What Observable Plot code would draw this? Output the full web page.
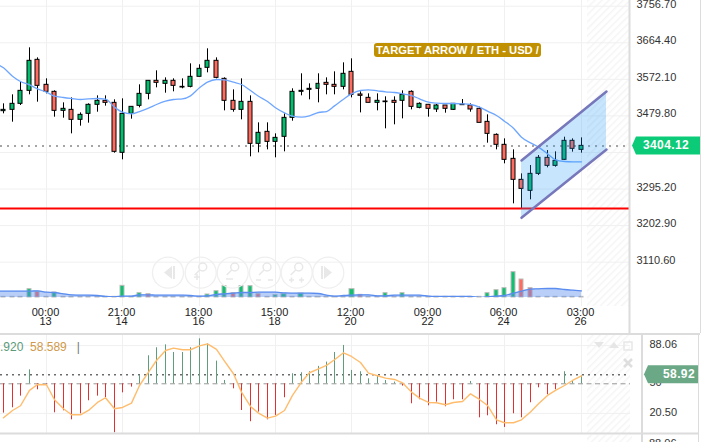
<!DOCTYPE html>
<html>
<head>
<meta charset="utf-8">
<script src="https://cdn.jsdelivr.net/npm/d3@7"></script>
<script src="https://cdn.jsdelivr.net/npm/@observablehq/plot@0.6"></script>
<style>
html,body{margin:0;padding:0;background:#fff}
#wrap{position:relative;width:714px;height:442px;overflow:hidden;font-family:"Liberation Sans",Arial,sans-serif;background:#fff}
#wrap>*{position:absolute;left:0}
#badge{left:374px;top:42.500px;width:167px;height:14.500px;line-height:14.500px;background:#c09000;color:#fff;border-radius:3px;font-weight:bold;font-size:11.200px;text-align:center;white-space:nowrap}
#legend{top:340px;font-size:12px;white-space:pre}
</style>
</head>
<body>
<div id="wrap"></div>
<script>
const high=[3510.3,3533.0,3565.0,3651.7,3626.4,3573.4,3543.1,3512.8,3525.4,3487.5,3510.3,3530.5,3530.5,3520.4,3522.9,3502.7,3558.3,3568.4,3593.6,3575.9,3573.4,3573.4,3611.3,3608.8,3649.2,3626.4,3575.9,3545.6,3573.4,3530.5,3462.3,3462.3,3434.5,3485.0,3548.2,3586.1,3560.8,3586.1,3575.9,3591.1,3613.8,3623.9,3540.6,3535.5,3535.5,3528.0,3528.0,3543.1,3543.1,3512.8,3507.8,3508.6,3506.1,3510.3,3521.2,3510.3,3501.9,3482.5,3434.5,3421.9,3394.1,3333.5,3354.6,3379.8,3392.4,3389.1,3426.1,3421.9,3424.4];
const low=[3485.0,3464.0,3506.1,3533.0,3514.5,3535.5,3476.6,3474.1,3434.5,3453.9,3461.5,3489.2,3504.4,3385.7,3368.9,3471.6,3500.2,3520.4,3550.7,3537.2,3540.6,3548.2,3550.7,3578.5,3588.6,3573.4,3492.6,3489.2,3469.9,3376.5,3386.6,3394.1,3374.0,3389.1,3466.5,3530.5,3520.4,3512.8,3533.0,3533.0,3545.6,3525.4,3487.5,3512.8,3492.6,3447.2,3457.3,3472.4,3495.1,3497.7,3476.6,3488.4,3486.7,3493.5,3506.1,3489.2,3462.3,3411.0,3394.1,3358.8,3257.8,3245.2,3267.9,3329.3,3348.7,3350.4,3367.2,3388.3,3385.7];
const open=[3491.8,3495.1,3510.3,3543.1,3621.4,3558.3,3540.6,3492.6,3495.1,3469.9,3485.0,3507.8,3517.9,3512.8,3386.6,3485.0,3505.2,3535.5,3568.4,3560.8,3568.4,3551.5,3553.2,3578.5,3601.2,3618.9,3573.4,3517.9,3495.1,3515.3,3409.3,3439.6,3414.3,3427.0,3474.9,3540.6,3545.6,3548.2,3563.3,3558.3,3553.2,3591.1,3533.9,3525.4,3512.8,3514.5,3517.9,3517.9,3540.6,3500.2,3507.8,3496.0,3506.1,3495.1,3506.9,3506.1,3497.7,3464.8,3432.0,3406.8,3371.4,3318.4,3290.6,3333.5,3374.0,3353.7,3368.9,3416.9,3394.1];
const close=[3495.1,3510.3,3543.1,3618.9,3555.7,3540.6,3492.6,3497.7,3469.9,3482.5,3507.8,3517.9,3512.8,3389.1,3485.0,3502.7,3535.5,3568.4,3563.3,3568.4,3555.7,3553.2,3578.5,3598.7,3618.9,3575.9,3517.9,3495.1,3515.3,3409.3,3437.1,3414.3,3424.4,3474.9,3540.6,3543.1,3548.2,3560.8,3558.3,3553.2,3586.1,3533.0,3530.5,3512.8,3517.9,3516.2,3512.8,3533.0,3502.7,3510.3,3497.7,3506.1,3497.7,3510.3,3508.6,3496.0,3462.3,3434.5,3406.8,3368.9,3318.4,3295.6,3333.5,3374.0,3353.7,3366.4,3416.9,3396.7,3404.2];
const priceMA=[3601.2,3580.1,3566.7,3558.3,3548.2,3539.7,3529.6,3526.3,3523.8,3521.2,3522.9,3523.8,3522.1,3501.9,3489.2,3485.0,3490.9,3499.3,3508.6,3517.0,3521.2,3522.9,3530.5,3550.7,3565.0,3571.7,3570.9,3565.0,3559.1,3544.0,3529.6,3516.2,3500.2,3487.5,3479.1,3476.6,3480.0,3488.4,3490.9,3505.2,3522.1,3535.5,3544.0,3545.6,3543.1,3540.6,3538.9,3535.5,3531.3,3522.9,3514.5,3512.0,3511.1,3511.1,3510.3,3508.6,3501.9,3491.8,3480.8,3466.5,3448.8,3426.1,3411.8,3400.9,3384.0,3368.9,3364.7,3363.9,3363.9];
const priceMABefore=3612;
const volume=[2,2,2,25,17,2,15,2,2,2,2,2,2,2,35,2,13,10,2,2,2,2,2,2,9,19,34,13,34,34,10,2,7,10,2,12,2,2,2,2,2,25,8,2,2,13,2,13,2,2,2,2,2,2,2,2,2,13,22,28,76,54,28,2,2,2,2,2,2];
const volumeDown=[4,17,27,30,42,61,62];
const volumeMA=[19,19,19,19,20,16,15,11,8,7,7,6,3,2,4,4,8,8,7,7,7,7,6,4,5,9,11,13,15,15,16,16,16,14,13,13,13,12,7,4,6,7,8,8,5,5,7,7,7,7,4,3,3,3,3,3,0,2,4,6,13,19,25,26,27,27,24,22,20];
const volumeMABefore=19;
const oscBars=[20.8,26.1,37.7,63.9,44.0,49.5,21.1,23.1,14.1,20.1,33.1,37.7,36.1,1.2,41.0,46.7,58.3,77.9,85.9,88.8,81.2,81.2,85.9,94.8,89.8,72.6,53.3,45.0,23.4,12.2,21.8,14.1,18.5,36.1,60.0,61.0,62.0,67.3,71.6,81.2,88.2,63.3,62.0,55.0,58.0,53.3,51.7,47.7,30.1,34.1,28.1,31.7,27.1,34.1,34.1,52.3,16.1,18.1,9.2,6.5,20.1,16.1,31.1,46.0,39.0,44.0,62.0,53.3,58.0];
const oscLine=[16.1,23.4,28.1,43.4,49.3,49.0,34.1,25.1,19.1,19.1,23.4,31.4,36.1,25.1,26.4,30.7,48.3,61.6,73.2,83.2,85.5,83.9,83.9,87.8,89.8,84.2,72.6,60.0,41.7,27.4,20.8,15.8,17.8,23.4,38.4,51.7,61.0,64.9,68.3,73.9,80.9,77.2,71.2,60.6,58.0,55.6,54.3,51.0,41.7,35.7,31.4,31.1,29.1,31.4,32.4,40.0,34.4,28.4,14.1,11.2,11.2,14.1,21.8,30.1,38.4,43.4,48.3,53.3,58.0];
const timeTicks=[5,14,23,32,41,50,59,68];
const timeLabels=["00:00\n13","21:00\n14","18:00\n16","15:00\n18","12:00\n20","09:00\n22","06:00\n24","03:00\n26"];
const priceTicks=[3756.70,3664.40,3572.10,3479.80,3295.20,3202.90,3110.60];
const priceGrid=[3756.70,3664.40,3572.10,3479.80,3387.50,3295.20,3202.90,3110.60];
const lastPrice=3404.12, supportLevel=3246;
const channelX=[61,71], channelUpper=[3367.2,3541.4], channelLower=[3222.5,3395.0];
const oscTicks=[88.06,50,20.50], oscGrid=[88.06,20.50], oscBase=50, oscLast=58.92;
const xDomain=[-0.389,73.8], hatchStart=68.75;
const title="TARGET ARROW / ETH - USD /";

const GREEN="#00bf6f",RED="#ff6b5e";
const candles=d3.range(high.length).map(i=>({i,h:high[i],l:low[i],o:open[i],c:close[i],ma:priceMA[i],v:volume[i],vm:volumeMA[i],b:oscBars[i],ol:oscLine[i]}));
const maLine=[{i:-1,ma:priceMABefore},...candles];
const volArea=[{i:-1,vm:volumeMABefore},...candles];
const channel=channelX.map((x,k)=>({x,u:channelUpper[k],d:channelLower[k]}));
const wrap=document.getElementById("wrap");
const style={fontFamily:"'Liberation Sans',Arial,sans-serif",background:"transparent",overflow:"visible"};
const hatchRect=()=>Plot.rect([0],{x1:hatchStart,x2:xDomain[1],y1:0,y2:1e5,fill:"url(#hatch)",clip:"frame"});

function tag(y,text,fill,x0,x1,textX,size){
  return (index,scales)=>{
    const g=d3.create("svg:g"), cy=scales.y(y);
    g.append("path").attr("d",`M${x0} ${cy-9}H${x1}V${cy+9}H${x0}L${x0-4} ${cy}Z`).attr("fill",fill);
    g.append("text").attr("x",textX).attr("y",cy+4).attr("fill","#fff").attr("font-weight","bold")
      .attr("font-size",size).attr("letter-spacing",".4").attr("text-anchor","middle").text(text);
    return g.node();
  };
}

// main price pane
const main=Plot.plot({
  width:714,height:333,marginLeft:0,marginRight:84,marginTop:0,marginBottom:27,style,
  x:{domain:xDomain,label:null,round:true},
  y:{domain:[2998.6,3771.2],label:null},
  marks:[
    hatchRect(),
    Plot.gridY(priceGrid,{stroke:"#f0f0f0",strokeOpacity:1}),
    Plot.gridX(timeTicks,{stroke:"#f0f0f0",strokeOpacity:1}),
    Plot.axisY({anchor:"right",ticks:priceTicks,tickFormat:d=>d.toFixed(2),tickSize:0,tickPadding:6,fontSize:11,fill:"#333",dy:-2,label:null}),
    Plot.axisX({ticks:timeTicks,tickFormat:d=>timeLabels[timeTicks.indexOf(d)],tickSize:0,tickPadding:2,fontSize:11,fill:"#222",lineHeight:0.9,dx:-1,label:null}),
    Plot.ruleY([lastPrice],{stroke:"#888",strokeWidth:1.5,strokeDasharray:"2 5"}),
    Plot.ruleX(candles,{x:"i",y1:"l",y2:"h",stroke:"#000",strokeWidth:1}),
    Plot.rect(candles,{x1:d=>d.i-0.235,x2:d=>d.i+0.235,y1:"o",y2:"c",fill:d=>d.c>=d.o?GREEN:RED,stroke:"#000",strokeWidth:1}),
    Plot.line(maLine,{x:"i",y:"ma",stroke:"#6ea6ff",strokeWidth:1.3,curve:"monotone-x",clip:"frame"}),
    Plot.ruleY([supportLevel],{stroke:"#f00",strokeWidth:2}),
    Plot.areaY(channel,{x:"x",y1:"d",y2:"u",fill:"#2196f3",fillOpacity:0.25}),
    Plot.line(channel,{x:"x",y:"u",stroke:"#7777bb",strokeWidth:2.5}),
    Plot.line(channel,{x:"x",y:"d",stroke:"#7777bb",strokeWidth:2.5}),
    tag(lastPrice,lastPrice.toFixed(2),"#0ccb78",636,700,666,12)
  ]
});
wrap.append(main);

// volume overlay sharing the main pane
const vol=Plot.plot({
  width:714,height:306,marginLeft:0,marginRight:84,marginTop:0,marginBottom:9,style,
  x:{domain:xDomain,label:null,axis:null,round:true},
  y:{domain:[0,891],label:null,axis:null},
  marks:[
    Plot.rectY(candles,{x1:d=>d.i-0.24,x2:d=>d.i+0.24,y1:0,y2:"v",
      fill:d=>d.v<=2?"#bbb":(volumeDown.includes(d.i)?RED:"#10c070"),stroke:"#bbb",strokeWidth:1}),
    Plot.areaY(volArea,{x:"i",y1:0,y2:"vm",fill:"#5b8def",fillOpacity:0.42,curve:"monotone-x",clip:"frame"}),
    Plot.line(volArea,{x:"i",y:"vm",stroke:"#5b8def",strokeWidth:1.3,curve:"monotone-x",clip:"frame"})
  ]
});
wrap.append(vol);

// oscillator pane
const osc=Plot.plot({
  width:714,height:100,marginLeft:0,marginRight:84,marginTop:0,marginBottom:0,style,
  x:{domain:xDomain,label:null,axis:null,round:true},
  y:{domain:[0.47,100.1],label:null},
  marks:[
    hatchRect(),
    Plot.gridY(oscGrid,{stroke:"#f0f0f0",strokeOpacity:1}),
    Plot.gridX(timeTicks,{stroke:"#f0f0f0",strokeOpacity:1}),
    Plot.axisY({anchor:"right",ticks:oscTicks,tickFormat:d=>d===50?"50":d.toFixed(2),tickSize:0,tickPadding:19,fontSize:11,fill:"#333",dy:-1,label:null}),
    Plot.ruleY([oscBase],{stroke:"#999",strokeDasharray:"5 3.5"}),
    Plot.ruleY([oscLast],{stroke:"#222",strokeDasharray:"2 4"}),
    Plot.ruleX(candles,{x:"i",y1:oscBase,y2:"b",stroke:d=>d.b>=oscBase?"#5f9e7c":"#e03030",strokeWidth:1}),
    Plot.line(candles,{x:"i",y:"ol",stroke:"#ffbc6c",strokeWidth:1.4}),
    tag(oscLast,oscLast.toFixed(2),"#6aa886",648,698,679,12)
  ]
});
osc.style.top="333px";
wrap.append(osc);

// surrounding chart furniture
const buttons=[168,200.7,232.7,265,296.7,328.3];
const glass=(cx,cy)=>`<circle cx="${cx+2}" cy="${cy-4}" r="4"/><path d="M${cx-1} ${cy-1}L${cx-6} ${cy+4}"/>`;
const chrome=`<svg xmlns="http://www.w3.org/2000/svg" width="714" height="442" style="position:absolute;left:0;top:0;overflow:visible;font-family:'Liberation Sans',Arial,sans-serif">
<defs><pattern id="hatch" width="5" height="5" patternUnits="userSpaceOnUse" patternTransform="rotate(45)"><rect width="5" height="5" fill="#fff"/><rect width="1.5" height="5" fill="#f5f5f5"/></pattern></defs>
<rect x="587" y="435" width="45" height="7" fill="url(#hatch)"/>
<rect x="628.5" y="0" width="2" height="333" fill="#dcdcdc"/><rect x="700" y="0" width="1" height="333" fill="#dcdcdc"/>
<rect x="0" y="333" width="700" height="2" fill="#dcdcdc"/><rect x="0" y="432.5" width="698" height="2" fill="#dcdcdc"/>
<rect x="641" y="333" width="2" height="109" fill="#dcdcdc"/><rect x="698" y="333" width="1" height="109" fill="#dcdcdc"/>
<g fill="none" stroke="#efefef" stroke-width="1.3">${buttons.map(x=>`<circle cx="${x}" cy="272.7" r="15.5"/>`).join("")}</g>
<path d="M172 266v13l-8 -6.500z" fill="#e8e8e8"/><rect x="173" y="266" width="2" height="13" fill="#e8e8e8"/>
<path d="M324 266v13l8 -6.500z" fill="#e8e8e8"/><rect x="321" y="266" width="2" height="13" fill="#e8e8e8"/>
<g fill="none" stroke="#e8e8e8" stroke-width="1.5">
${glass(200.7,271)}<path d="M194 277h6M197 274v6"/>
${glass(232.7,271)}<path d="M226 279h7"/>
${glass(265,271)}<path d="M256 280h5M268 280h5"/>
${glass(296.7,271)}<path d="M289 280h5M291.500 277.500v5M299 280h5M301.500 277.500v5"/>
</g>
<path d="M594 342h10l-5 6z" fill="#e6e6e6"/><path d="M609 348l5 -6l5 6z" fill="#e6e6e6"/>
<rect x="624" y="342" width="8" height="8" fill="none" stroke="#e6e6e6" stroke-width="1.4"/>
<path d="M624 359l8 8M632 359l-8 8" stroke="#dedede" stroke-width="2.5"/>
<text x="649" y="447" font-size="11" fill="#333">88.06</text>
</svg>`;
const holder=document.createElement("div");
holder.style.cssText="position:absolute;left:0;top:0;width:714px;height:442px;pointer-events:none";
holder.innerHTML=chrome;
wrap.append(holder);

const badge=document.createElement("div");
badge.id="badge";badge.textContent=title;wrap.append(badge);

const legend=document.createElement("div");
legend.id="legend";
legend.innerHTML='<span style="color:#5a9a78">.920</span><span style="color:#d09a4a">  58.589</span><span style="color:#777;margin-left:10px">|</span>';
wrap.append(legend);
</script>
</body>
</html>
